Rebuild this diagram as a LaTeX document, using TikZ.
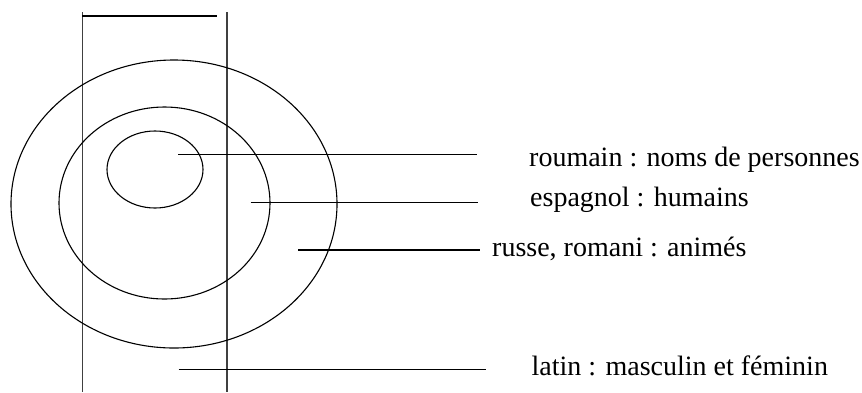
\documentclass[tikz,border=0pt]{standalone}
\usepackage{fontspec}
\setmainfont{Liberation Serif}
\begin{document}
\begin{tikzpicture}[x=1pt,y=-1pt,
  ring/.style={draw=black,line width=1.1pt},
  rule/.style={draw=black!75,line width=1.1pt},
  leader/.style={draw=black,line width=1.4pt},
  lbl/.style={anchor=base west,inner sep=0pt,font=\fontsize{28}{33}\selectfont}]
\useasboundingbox (0,0) rectangle (862,392);
% vertical bars and top bar
\coordinate (vlt) at (82.7,12);
\coordinate (vlb) at (82.7,392);
\coordinate (vrt) at (227,12);
\coordinate (vrb) at (227,392);
\coordinate (hta) at (82,16);
\coordinate (htb) at (216.5,16);
\draw[rule] (vlt) -- (vlb);
\draw[rule] (vrt) -- (vrb);
\draw[ring] (hta) -- (htb);
% ellipses
\draw[ring] (174,204) ellipse [x radius=163, y radius=144];
\draw[ring] (164.5,203) ellipse [x radius=105.5, y radius=96];
\draw[ring] (155,169.5) ellipse [x radius=48, y radius=38.5];
% labels
\node[lbl] (roum) at (529,166.7) {roumain : noms de personnes};
\node[lbl] (esp) at (530,206.5) {espagnol : humains};
\node[lbl] (rus) at (492,256) {russe, romani : animés};
\node[lbl] (lat) at (531.5,375.5) {latin : masculin et féminin};
% leader lines
\coordinate (a1) at (178,154.3);
\coordinate (b1) at (477,154.3);
\coordinate (a2) at (250.5,202.7);
\coordinate (b2) at (478,202.7);
\coordinate (a3) at (298,250);
\coordinate (b3) at (480,250);
\coordinate (a4) at (178.5,369.3);
\coordinate (b4) at (486,369.3);
\draw[leader] (a1) -- (b1);
\draw[leader] (a2) -- (b2);
\draw[leader] (a3) -- (b3);
\draw[leader] (a4) -- (b4);
\end{tikzpicture}
\end{document}
